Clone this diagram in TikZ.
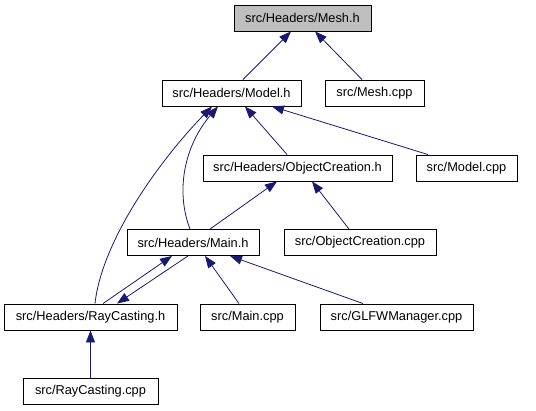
\documentclass[tikz,border=0pt]{standalone}
\usepackage{fontspec}
\setmainfont{Liberation Sans}
\usetikzlibrary{arrows.meta}
\definecolor{edgeblue}{HTML}{191970}
\definecolor{headgrey}{HTML}{BFBFBF}

\begin{document}
\begin{tikzpicture}[x=1pt, y=-1pt,
		font=\fontsize{12.8}{14}\selectfont,
		file/.style={draw=black, line width=0.9pt, minimum height=26pt, inner sep=0pt},
		inc/.style={->, draw=edgeblue, line width=0.8pt, >={Triangle[length=12pt,width=9pt,fill=edgeblue]}}]
		\useasboundingbox (0,0) rectangle (536,411);
		% files
		\node[file, fill=headgrey, minimum width=137pt] (mesh) at (302.5,18) {src/Headers/Mesh.h};
		\node[file, minimum width=139pt] (model) at (231.5,93) {src/Headers/Model.h};
		\node[file, minimum width=99pt] (meshcpp) at (374.5,93) {src/Mesh.cpp};
		\node[file, minimum width=189pt] (objh) at (297.5,168) {src/Headers/ObjectCreation.h};
		\node[file, minimum width=101pt] (modelcpp) at (466.5,168) {src/Model.cpp};
		\node[file, minimum width=132pt] (mainh) at (193,242.5) {src/Headers/Main.h};
		\node[file, minimum width=152pt] (objcpp) at (360,242.5) {src/ObjectCreation.cpp};
		\node[file, minimum width=173pt] (raych) at (90.5,317) {src/Headers/RayCasting.h};
		\node[file, minimum width=95pt] (maincpp) at (247.5,317) {src/Main.cpp};
		\node[file, minimum width=153pt] (glfw) at (396.5,317) {src/GLFWManager.cpp};
		\node[file, minimum width=135pt] (raycpp) at (90.5,391.5) {src/RayCasting.cpp};
		% includes
		\draw[inc] ([xshift=11.5pt]model.north) -- ([xshift=-11.5pt]mesh.south);
		\draw[inc] ([xshift=-12.5pt]meshcpp.north) -- ([xshift=12.5pt]mesh.south);
		\draw[inc] ([xshift=-10.5pt]objh.north) -- ([xshift=13.5pt]model.south);
		\draw[inc] ([xshift=-38.5pt]modelcpp.north) -- ([xshift=40.5pt]model.south);
		\draw[inc] ([xshift=-3pt]mainh.north) .. controls (175,190) and (185,145) .. ([xshift=-13.5pt]model.south);
		\draw[inc] ([xshift=4.5pt]raych.north) .. controls (102,240) and (160,160) .. ([xshift=-19.5pt]model.south);
		\draw[inc] ([xshift=17pt]mainh.north) -- ([xshift=-20.5pt]objh.south);
		\draw[inc] ([xshift=-11pt]objcpp.north) -- ([xshift=14.5pt]objh.south);
		\draw[inc] ([xshift=12.5pt]raych.north) -- ([xshift=-21pt]mainh.south);
		\draw[inc] ([xshift=-5pt]mainh.south) -- ([xshift=26.5pt]raych.north);
		\draw[inc] ([xshift=-8.5pt]maincpp.north) -- ([xshift=12pt]mainh.south);
		\draw[inc] ([xshift=-33.5pt]glfw.north) -- ([xshift=37pt]mainh.south);
		\draw[inc] (raycpp.north) -- (raych.south);
	\end{tikzpicture}
\end{document}
